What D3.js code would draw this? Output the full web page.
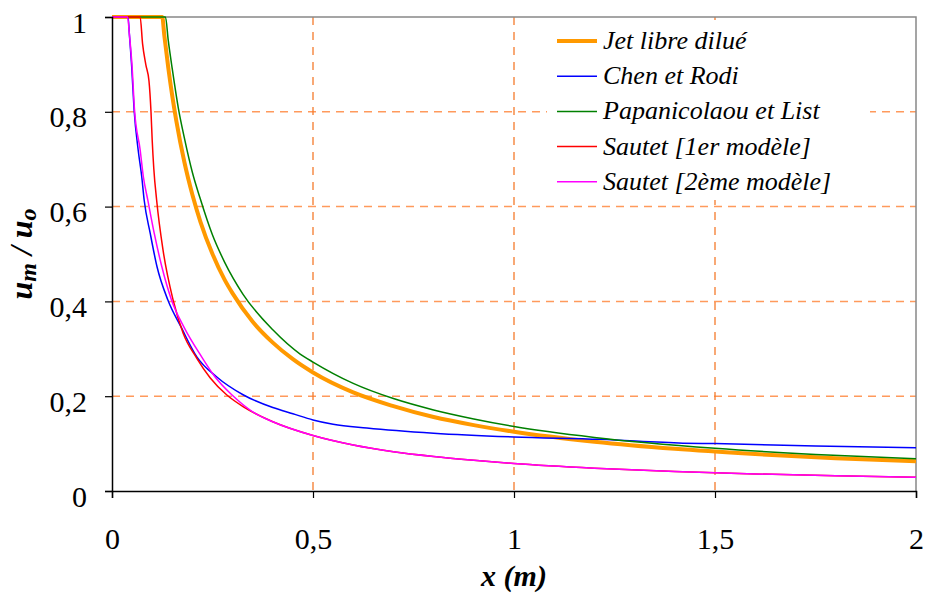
<!DOCTYPE html>
<html lang="fr">
<head>
  <meta charset="UTF-8">
  <title>u_m / u_o en fonction de x</title>
  <script src="https://d3js.org/d3.v7.min.js"></script>
  <style>
    body { margin: 0; background: #fff; }
    svg text { font-family: "Times New Roman", "Liberation Serif", serif; fill: #000; }
  </style>
</head>
<body>
  <svg id="chart" width="926" height="594"></svg>

  <script>
    // Values (x in m, u_m/u_o)
    const jetX = [0, 0.125, 0.13, 0.14, 0.15, 0.16, 0.18, 0.2, 0.22, 0.25, 0.28, 0.3, 0.35, 0.4, 0.45, 0.5, 0.6, 0.7, 0.8, 0.9, 1.0, 1.2, 1.4, 1.6, 1.8, 2.0];
    const jetY = [1, 1, 0.962, 0.893, 0.833, 0.781, 0.694, 0.625, 0.568, 0.5, 0.446, 0.417, 0.357, 0.313, 0.278, 0.25, 0.208, 0.179, 0.156, 0.139, 0.125, 0.104, 0.089, 0.078, 0.069, 0.063];

    const chenX = [0, 0.04, 0.043, 0.049, 0.055, 0.065, 0.074, 0.08, 0.095, 0.112, 0.139, 0.173, 0.211, 0.26, 0.326, 0.4, 0.45, 0.5, 0.55, 0.634, 0.8, 1.0, 1.214, 1.42, 1.5, 1.75, 2.0];
    const chenY = [1, 1, 0.966, 0.895, 0.804, 0.72, 0.663, 0.614, 0.544, 0.473, 0.403, 0.344, 0.283, 0.241, 0.203, 0.176, 0.163, 0.15, 0.141, 0.133, 0.122, 0.114, 0.109, 0.101, 0.1, 0.095, 0.091];

    const papX = [0, 0.133, 0.14, 0.15, 0.165, 0.18, 0.2, 0.219, 0.25, 0.28, 0.326, 0.4, 0.468, 0.5, 0.6, 0.7, 0.8, 0.9, 1.0, 1.2, 1.5, 1.75, 2.0];
    const papY = [1, 1, 0.95, 0.89, 0.808, 0.745, 0.672, 0.618, 0.54, 0.483, 0.415, 0.34, 0.289, 0.272, 0.227, 0.195, 0.171, 0.152, 0.136, 0.113, 0.09, 0.077, 0.068];

    const sautet1X = [0, 0.07, 0.076, 0.084, 0.092, 0.097, 0.1, 0.104, 0.111, 0.127, 0.152, 0.177, 0.211, 0.244, 0.285, 0.33, 0.4, 0.5, 0.6, 0.7, 0.8, 0.9, 1.0, 1.2, 1.4, 1.6, 1.8, 2.0];
    const sautet1Y = [1, 1, 0.944, 0.9, 0.865, 0.8, 0.74, 0.68, 0.614, 0.508, 0.403, 0.333, 0.28, 0.239, 0.203, 0.176, 0.146, 0.117, 0.097, 0.083, 0.073, 0.065, 0.058, 0.048, 0.041, 0.036, 0.032, 0.029];

    const sautet2X = [0, 0.039, 0.043, 0.05, 0.056, 0.07, 0.078, 0.089, 0.105, 0.124, 0.148, 0.18, 0.223, 0.256, 0.298, 0.35, 0.4, 0.5, 0.6, 0.7, 0.8, 0.9, 1.0, 1.2, 1.4, 1.6, 1.8, 2.0];
    const sautet2Y = [1, 1, 0.966, 0.895, 0.804, 0.72, 0.663, 0.614, 0.544, 0.473, 0.403, 0.344, 0.283, 0.241, 0.203, 0.167, 0.146, 0.117, 0.097, 0.083, 0.073, 0.065, 0.058, 0.048, 0.041, 0.036, 0.032, 0.029];

    const seriesNames = ["Jet libre dilué", "Chen et Rodi", "Papanicolaou et List", "Sautet [1er modèle]", "Sautet [2ème modèle]"];
    const seriesColors = ["#ff9900", "#0000ff", "#008000", "#ff0000", "#ff00ff"];
    const seriesWidths = [4, 1.5, 1.5, 1.5, 1.5];

    const xTicks = [0, 0.5, 1, 1.5, 2];
    const yTicks = [0, 0.2, 0.4, 0.6, 0.8, 1];

    const series = [
      [jetX, jetY], [chenX, chenY], [papX, papY], [sautet1X, sautet1Y], [sautet2X, sautet2Y]
    ].map(([xs, ys], i) => ({
      name: seriesNames[i],
      color: seriesColors[i],
      width: seriesWidths[i],
      points: xs.map((x, j) => [x, ys[j]])
    }));

    const width = 926, height = 594;
    const margin = { top: 17, right: 10, bottom: 103, left: 112 };
    const serif = "'Times New Roman', 'Liberation Serif', serif";

    const svg = d3.select("#chart");
    svg.append("rect").attr("width", width).attr("height", height).attr("fill", "#fff");

    const x = d3.scaleLinear().domain([0, 2]).range([margin.left, width - margin.right]);
    const y = d3.scaleLinear().domain([0, 1]).range([height - margin.bottom, margin.top]);

    const fmt = d => String(d).replace(".", ",");

    // grid
    svg.append("g")
       .selectAll("line")
       .data(yTicks.filter(d => d > 0 && d < 1))
       .join("line")
       .attr("x1", x(0)).attr("x2", x(2))
       .attr("y1", d => y(d)).attr("y2", d => y(d))
       .attr("stroke", "#ff9a5c").attr("stroke-width", 1.5)
       .attr("stroke-dasharray", "8,6");

    svg.append("g")
       .selectAll("line")
       .data(xTicks.filter(d => d > 0 && d < 2))
       .join("line")
       .attr("x1", d => x(d)).attr("x2", d => x(d))
       .attr("y1", y(1)).attr("y2", y(0))
       .attr("stroke", "#f47a2c").attr("stroke-width", 1.3)
       .attr("stroke-dasharray", "8,7");

    // legend background hides the grid behind it
    svg.append("rect")
       .attr("x", 547).attr("y", 20)
       .attr("width", 323).attr("height", 180)
       .attr("fill", "#fff");

    // plot frame (top / right)
    svg.append("path")
       .attr("d", `M${x(0)},${y(1)}H${x(2)}V${y(0)}`)
       .attr("fill", "none").attr("stroke", "#888").attr("stroke-width", 1.5);

    // curves
    svg.append("clipPath").attr("id", "clip")
       .append("rect")
       .attr("x", x(0)).attr("y", y(1) - 2)
       .attr("width", x(2) - x(0)).attr("height", y(0) - y(1) + 2);

    const line = d3.line()
                   .x(d => x(d[0]))
                   .y(d => y(d[1]))
                   .curve(d3.curveMonotoneX);

    svg.append("g")
       .attr("clip-path", "url(#clip)")
       .selectAll("path")
       .data(series)
       .join("path")
       .attr("d", d => line(d.points))
       .attr("fill", "none")
       .attr("stroke", d => d.color)
       .attr("stroke-width", d => d.width)
       .attr("stroke-linejoin", "round");

    // axes
    const xAxis = svg.append("g")
       .attr("transform", `translate(0,${y(0)})`)
       .call(d3.axisBottom(x).tickValues(xTicks).tickFormat(fmt).tickSize(7).tickPadding(30));
    const yAxis = svg.append("g")
       .attr("transform", `translate(${x(0)},0)`)
       .call(d3.axisLeft(y).tickValues(yTicks).tickFormat(fmt).tickSize(7).tickPadding(18));

    [xAxis, yAxis].forEach(g => {
      g.attr("font-family", serif);
      g.select(".domain").attr("stroke", "#000").attr("stroke-width", 1.5);
      g.selectAll(".tick line").attr("stroke", "#000").attr("stroke-width", 1.2);
      g.selectAll(".tick text")
       .style("font-family", serif)
       .attr("font-size", 30)
       .attr("fill", "#000");
    });
    yAxis.selectAll(".tick text").attr("dy", "0.5em");

    // axis titles
    svg.append("text")
       .attr("x", x(1))
       .attr("y", 586)
       .attr("text-anchor", "middle")
       .style("font-family", serif)
       .attr("font-size", 30)
       .attr("font-weight", "bold")
       .attr("font-style", "italic")
       .text("x (m)");

    const yTitle = svg.append("text")
       .attr("transform", `translate(32,${(y(0) + y(1)) / 2}) rotate(-90)`)
       .attr("text-anchor", "middle")
       .style("font-family", serif)
       .attr("font-size", 32)
       .attr("font-weight", "bold")
       .attr("font-style", "italic");
    yTitle.append("tspan").text("u");
    yTitle.append("tspan").attr("font-size", 24).attr("dy", 4).text("m");
    yTitle.append("tspan").attr("dy", -4).text(" / u");
    yTitle.append("tspan").attr("font-size", 24).attr("dy", 4).text("o");

    // legend
    const legend = svg.append("g");
    const rows = legend.selectAll("g")
       .data(series)
       .join("g")
       .attr("transform", (d, i) => `translate(557,${41 + i * 35.2})`);

    rows.append("line")
       .attr("x1", 0).attr("x2", 40)
       .attr("stroke", d => d.color)
       .attr("stroke-width", d => d.width);

    rows.append("text")
       .attr("x", 46)
       .attr("y", 8)
       .style("font-family", serif)
       .attr("font-size", 26)
       .attr("font-style", "italic")
       .text(d => d.name);
  </script>
</body>
</html>
